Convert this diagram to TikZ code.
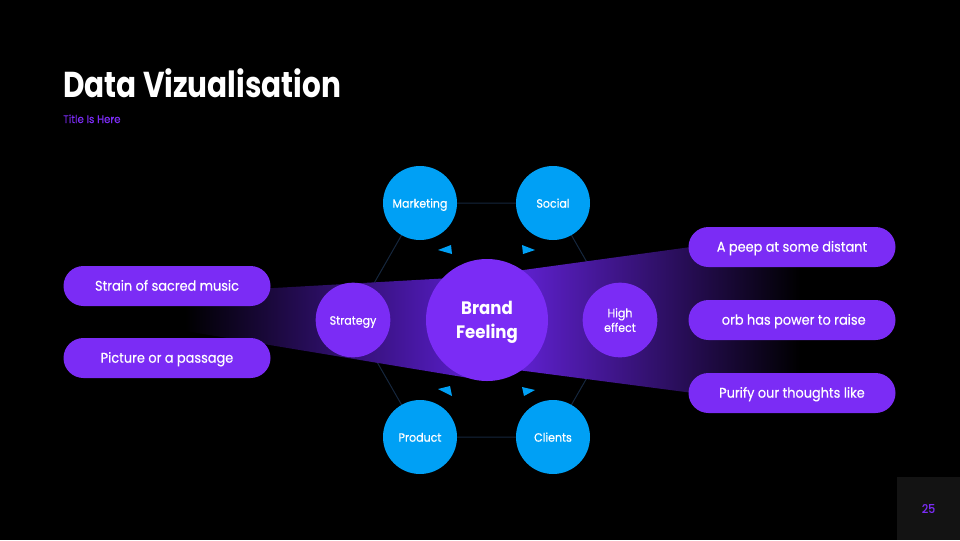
\documentclass[tikz,border=0pt]{standalone}
\usepackage{fontspec}
\setmainfont{Poppins}[FakeStretch=0.92]
\newfontfamily\medfont{Poppins}[FakeStretch=0.92,FakeBold=0.35]
\newfontfamily\titlefont{Poppins}[FakeStretch=0.82]
\definecolor{vio}{HTML}{7B2CF5}
\definecolor{sky}{HTML}{00A0F5}
\definecolor{hexline}{HTML}{15263C}
\definecolor{pagebox}{HTML}{131313}
\definecolor{funL}{HTML}{5E1FD6}
\definecolor{funR}{HTML}{6A24E8}
\begin{document}
\begin{tikzpicture}[x=0.75pt,y=-0.75pt,
  every node/.style={text=white},
  bluec/.style={circle,fill=sky,minimum size=55.5pt,inner sep=0pt,text height=0.7em,text depth=0pt,font=\medfont\fontsize{9}{11}\selectfont},
  vioc/.style={circle,fill=vio,minimum size=56pt,inner sep=0pt,text depth=0pt,font=\medfont\fontsize{9}{11}\selectfont,align=center},
  bigc/.style={circle,fill=vio,minimum size=91.5pt,inner sep=0pt,text depth=0pt,font=\bfseries\fontsize{13.5}{18}\selectfont,align=center},
  pill/.style={rectangle,rounded corners=15pt,fill=vio,minimum width=155.25pt,minimum height=30pt,inner sep=0pt,text height=0.7em,text depth=0pt,font=\medfont\fontsize{10.5}{12}\selectfont},
  hexedge/.style={draw=hexline,line width=0.75pt},
  tri/.style={fill=sky}]
\fill[black] (0,0) rectangle (960,540);
\useasboundingbox (0,0) rectangle (960,540);

\path
  (420,203) coordinate (cmk)
  (553,203) coordinate (cso)
  (420,437) coordinate (cpr)
  (553,437) coordinate (ccl)
  (353,320) coordinate (cst)
  (620,320) coordinate (che);

\draw[hexedge] (cmk) -- (cso) -- (che) -- (ccl) -- (cpr) -- (cst) -- cycle;

% funnels
\shade[left color=black,right color=funL] (185,293) -- (487,276) -- (487,381) -- (185,331) -- cycle;
\shade[left color=funR,right color=black] (487,275) -- (800,232) -- (800,407) -- (487,366) -- cycle;

% small triangles
\fill[tri] (438,250) -- (451,245) -- (452,254) -- cycle;
\fill[tri] (522,245) -- (523,254) -- (535,250) -- cycle;
\fill[tri] (438,389) -- (450,386) -- (452,396) -- cycle;
\fill[tri] (522,387) -- (524,396) -- (535,390) -- cycle;

\node[bluec] (mk) at (cmk) {Marketing};
\node[bluec] (so) at (cso) {Social};
\node[bluec] (pr) at (cpr) {Product};
\node[bluec] (cl) at (ccl) {Clients};
\node[vioc,text height=0.7em] (st) at (cst) {Strategy};
\node[vioc] (he) at (che) {High\\effect};
\node[bigc] (bf) at (487,320) {Brand\\Feeling};

\node[pill] (p1) at (167,286) {Strain of sacred music};
\node[pill] (p2) at (167,358) {Picture or a passage};
\node[pill] (p3) at (792,247) {A peep at some distant};
\node[pill] (p4) at (792,320) {\ orb has power to raise};
\node[pill] (p5) at (792,393) {Purify our thoughts like};

\node[anchor=base west,inner sep=0pt,font=\titlefont\bfseries\fontsize{27}{30}\selectfont] (title) at (63,97) {Data Vizualisation};
\node[anchor=base west,inner sep=0pt,text=vio,font=\medfont\fontsize{8.3}{9}\selectfont] (sub) at (63,123) {Title Is Here};

\fill[pagebox] (897,477) rectangle (960,540);
\node[text=vio,font=\medfont\fontsize{9}{10}\selectfont] (pg) at (928.5,508.5) {25};
\end{tikzpicture}
\end{document}
